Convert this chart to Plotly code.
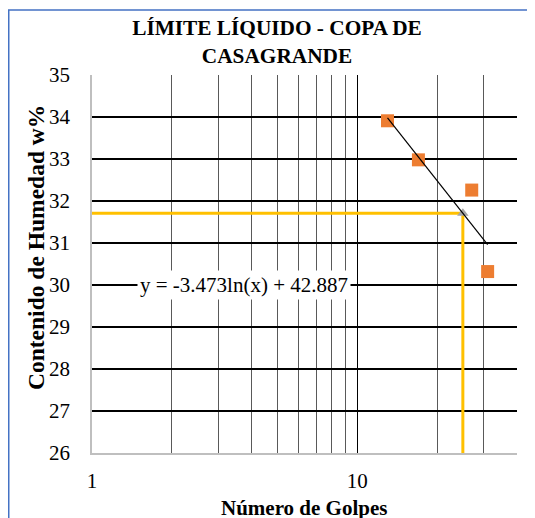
import plotly.graph_objects as go

# lecturas del ensayo
golpes = [13, 17, 27, 31]
humedad = [33.91, 32.98, 32.26, 30.32]

# linea de tendencia (extremos)
trend_x = [13, 31]
trend_y = [33.98, 30.96]
ecuacion = "y = -3.473ln(x) + 42.887"

# limite liquido a 25 golpes
ll_golpes = 25
ll_humedad = 31.71

y_ticks = list(range(26, 36))
x_minor = [2, 3, 4, 5, 6, 7, 8, 9, 20, 30, 40]

FONT = "Liberation Serif, Times New Roman, serif"
ORANGE = "#ED7D31"
YELLOW = "#FFC000"

# la pagina tiene 8px de margen en body: figura de 527x510
W, H = 527, 510
L, T, R, B = 84, 67, 18, 65
PW, PH = W - L - R, H - T - B


def px(x):
    return (x - 8 - L) / PW


def py(y):
    return (T + PH - (y - 8)) / PH


fig = go.Figure()

fig.add_trace(go.Scatter(
    x=golpes, y=humedad, mode="markers",
    marker=dict(symbol="square", size=13, color=ORANGE),
    showlegend=False,
))
fig.add_trace(go.Scatter(
    x=[1, ll_golpes], y=[ll_humedad, ll_humedad], mode="lines",
    line=dict(color=YELLOW, width=3), showlegend=False,
))
fig.add_trace(go.Scatter(
    x=[ll_golpes, ll_golpes], y=[26, ll_humedad], mode="lines",
    line=dict(color=YELLOW, width=3), showlegend=False,
))
fig.add_trace(go.Scatter(
    x=[ll_golpes], y=[ll_humedad], mode="markers",
    marker=dict(symbol="triangle-up", size=10, color="#A5A5A5"),
    showlegend=False,
))
fig.add_trace(go.Scatter(
    x=trend_x, y=trend_y, mode="lines",
    line=dict(color="black", width=1.2), showlegend=False,
))

fig.update_layout(
    width=W, height=H,
    margin=dict(l=L, r=R, t=T, b=B),
    paper_bgcolor="white", plot_bgcolor="white",
    font=dict(family=FONT, size=21, color="black"),
    title=dict(
        text="<b>LÍMITE LÍQUIDO - COPA DE<br>CASAGRANDE</b>",
        x=269 / W, xanchor="center", xref="container",
        y=0.947, yanchor="top", yref="container",
        font=dict(family=FONT, size=21.3),
    ),
    xaxis=dict(
        type="log", range=[0, 1.60206],
        tickvals=[1, 10], ticktext=["1", "10"],
        showgrid=True, gridcolor="black", gridwidth=1.2,
        minor=dict(tickvals=x_minor, showgrid=True, gridcolor="#595959", gridwidth=1, ticks=""),
        showline=True, linecolor="#BFBFBF", linewidth=1.5,
        ticks="", ticklabelstandoff=8, zeroline=False,
        tickfont=dict(size=21),
    ),
    yaxis=dict(
        range=[26, 35], tickvals=y_ticks,
        showgrid=True, gridcolor="black", gridwidth=1.8,
        showline=True, linecolor="#BFBFBF", linewidth=1.5,
        ticks="", ticklabelstandoff=16, zeroline=False,
        tickfont=dict(size=21),
    ),
    annotations=[
        dict(text=ecuacion, x=0.5736, y=30, xref="x", yref="y",
             showarrow=False, bgcolor="white", borderpad=2,
             font=dict(family=FONT, size=21)),
        dict(text="<b>Número de Golpes</b>", x=px(304), y=py(508),
             xref="paper", yref="paper", showarrow=False,
             xanchor="center", yanchor="middle",
             font=dict(family=FONT, size=21)),
        dict(text="<b>Contenido de Humedad w%</b>", x=px(36), y=py(248),
             xref="paper", yref="paper", showarrow=False, textangle=-90,
             xanchor="center", yanchor="middle",
             font=dict(family=FONT, size=23.5)),
    ],
    shapes=[
        dict(type="rect", xref="paper", yref="paper",
             x0=px(8.75), x1=1.3, y0=-0.3, y1=py(10),
             line=dict(color="#4472C4", width=1.5), layer="below"),
    ],
)

fig.write_html("out.html")
